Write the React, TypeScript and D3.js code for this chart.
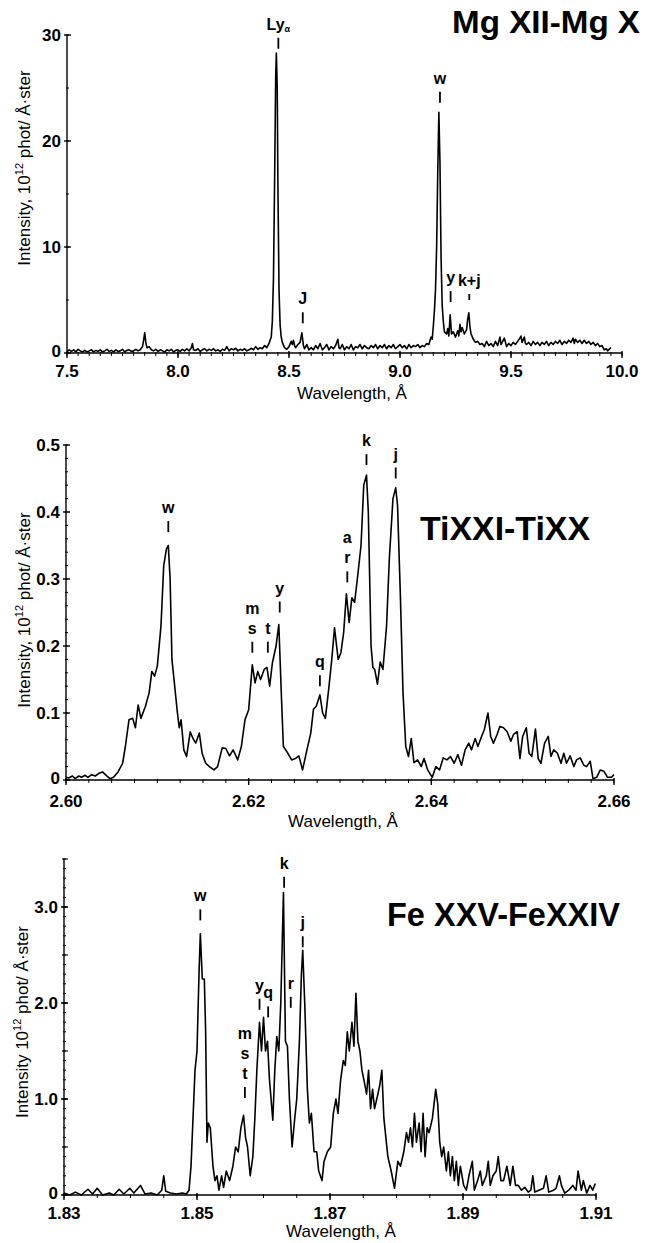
import React from 'react';
import * as d3 from 'd3';

// ---------- DATA ----------
const mgSpectrum: [number, number][] = [
  [7.50,0.1],[7.51,0.3],[7.52,0.15],[7.53,0.3],[7.54,0.1],[7.55,0.35],[7.56,0.2],[7.57,0.1],[7.58,0.25],[7.59,0.1],
  [7.60,0.2],[7.61,0.3],[7.62,0.1],[7.63,0.25],[7.64,0.15],[7.65,0.3],[7.66,0.1],[7.67,0.2],[7.68,0.35],[7.69,0.15],
  [7.70,0.25],[7.71,0.1],[7.72,0.3],[7.73,0.15],[7.74,0.2],[7.75,0.35],[7.76,0.1],[7.77,0.25],[7.78,0.3],[7.79,0.15],
  [7.80,0.2],[7.81,0.35],[7.82,0.2],[7.83,0.3],[7.84,0.6],[7.845,1.2],[7.85,1.9],[7.855,1.0],[7.86,0.5],[7.87,0.6],
  [7.88,0.3],[7.89,0.2],[7.90,0.35],[7.91,0.15],[7.92,0.3],[7.93,0.2],[7.94,0.1],[7.95,0.3],[7.96,0.2],[7.97,0.35],
  [7.98,0.1],[7.99,0.25],[8.00,0.3],[8.01,0.15],[8.02,0.35],[8.03,0.2],[8.04,0.4],[8.05,0.2],[8.06,0.5],[8.065,0.9],
  [8.07,0.3],[8.08,0.25],[8.09,0.4],[8.10,0.15],[8.11,0.3],[8.12,0.4],[8.13,0.2],[8.14,0.35],[8.15,0.25],[8.16,0.4],
  [8.17,0.2],[8.18,0.3],[8.19,0.15],[8.20,0.35],[8.21,0.25],[8.22,0.6],[8.23,0.2],[8.24,0.4],[8.25,0.3],[8.26,0.45],
  [8.27,0.2],[8.28,0.35],[8.29,0.25],[8.30,0.4],[8.31,0.2],[8.32,0.3],[8.33,0.45],[8.34,0.3],[8.35,0.6],[8.36,0.35],
  [8.37,0.5],[8.38,0.4],[8.39,0.7],[8.40,0.5],[8.41,0.9],[8.42,1.5],[8.425,3.0],[8.43,7.0],[8.435,16.0],[8.44,26.0],
  [8.443,28.3],[8.447,25.0],[8.45,16.0],[8.455,6.0],[8.46,2.6],[8.465,1.5],[8.47,1.0],[8.48,0.5],[8.49,0.35],[8.50,0.6],
  [8.51,1.1],[8.515,0.8],[8.52,1.2],[8.525,0.7],[8.53,0.5],[8.54,0.8],[8.55,1.0],[8.558,1.9],[8.565,0.7],[8.57,0.4],
  [8.58,0.8],[8.59,0.3],[8.60,0.5],[8.61,0.3],[8.62,0.7],[8.63,0.4],[8.64,0.9],[8.65,0.3],[8.66,0.5],[8.67,0.8],
  [8.68,0.3],[8.69,0.6],[8.70,0.4],[8.71,0.7],[8.72,1.3],[8.725,0.5],[8.73,0.4],[8.74,0.8],[8.75,0.3],[8.76,0.6],
  [8.77,0.4],[8.78,0.8],[8.79,0.3],[8.80,0.6],[8.81,0.5],[8.82,0.8],[8.83,0.4],[8.84,0.7],[8.85,0.5],[8.86,0.4],
  [8.87,0.7],[8.88,0.5],[8.89,0.8],[8.90,0.4],[8.91,0.7],[8.92,0.5],[8.93,0.8],[8.94,0.4],[8.95,0.7],[8.96,0.5],
  [8.97,0.8],[8.98,0.4],[8.99,0.6],[9.00,0.8],[9.01,0.5],[9.02,0.7],[9.03,0.4],[9.04,0.8],[9.05,0.5],[9.06,0.7],
  [9.07,0.6],[9.08,0.8],[9.09,0.5],[9.10,0.7],[9.11,0.6],[9.12,0.9],[9.13,0.8],[9.14,1.5],[9.145,1.3],[9.15,2.5],
  [9.155,4.0],[9.16,6.0],[9.165,10.0],[9.17,17.0],[9.175,22.7],[9.18,18.0],[9.185,9.0],[9.19,4.5],[9.195,3.0],[9.20,2.0],
  [9.21,1.8],[9.215,2.3],[9.22,1.6],[9.226,3.6],[9.232,1.8],[9.24,2.0],[9.25,1.5],[9.26,2.1],[9.265,1.6],[9.27,2.7],
  [9.275,2.0],[9.28,2.4],[9.29,1.8],[9.30,2.2],[9.305,3.2],[9.31,3.8],[9.315,2.5],[9.32,1.8],[9.33,1.3],[9.34,1.0],
  [9.35,1.1],[9.36,0.8],[9.37,0.9],[9.38,0.6],[9.39,1.1],[9.40,0.7],[9.41,0.9],[9.42,0.6],[9.43,1.1],[9.44,0.7],
  [9.45,1.5],[9.455,0.8],[9.46,1.0],[9.47,1.4],[9.48,0.6],[9.49,0.9],[9.50,0.7],[9.51,1.0],[9.52,0.8],[9.53,1.1],
  [9.54,1.4],[9.545,1.6],[9.55,1.0],[9.56,1.5],[9.565,0.9],[9.57,0.8],[9.58,1.0],[9.59,0.7],[9.60,1.1],[9.61,0.8],
  [9.62,1.0],[9.63,0.7],[9.64,1.0],[9.65,0.8],[9.66,1.1],[9.67,0.7],[9.68,1.0],[9.69,0.8],[9.70,1.1],[9.71,0.9],
  [9.72,1.2],[9.73,0.8],[9.74,1.1],[9.75,0.9],[9.76,1.2],[9.77,1.0],[9.78,1.4],[9.785,0.9],[9.79,1.3],[9.80,1.0],
  [9.81,1.2],[9.82,0.9],[9.83,1.2],[9.84,0.9],[9.85,1.1],[9.86,0.8],[9.87,1.0],[9.88,0.7],[9.89,0.9],[9.90,0.6],
  [9.91,0.7],[9.92,0.3],[9.93,0.4],[9.935,0.2],[9.94,0.3],[9.95,0.5],
];

const tiSpectrum: [number, number][] = [
  [2.6000,0.004],[2.6003,0.003],[2.6007,0.006],[2.6010,0.002],[2.6014,0.006],[2.6017,0.004],[2.6021,0.007],[2.6024,0.004],
  [2.6028,0.008],[2.6032,0.006],[2.6036,0.01],[2.6040,0.012],[2.6044,0.007],[2.6048,0.002],[2.6052,0.004],[2.6057,0.012],
  [2.6062,0.025],[2.6065,0.05],[2.6069,0.09],[2.6073,0.092],[2.6076,0.078],[2.6079,0.112],[2.6082,0.092],[2.6087,0.11],
  [2.6091,0.13],[2.6094,0.162],[2.6097,0.155],[2.6100,0.17],[2.6104,0.23],[2.6107,0.32],[2.6110,0.345],[2.6112,0.35],
  [2.6114,0.3],[2.6116,0.18],[2.6119,0.14],[2.6122,0.1],[2.6124,0.078],[2.6126,0.09],[2.6129,0.045],[2.6132,0.035],
  [2.6136,0.072],[2.6139,0.062],[2.6142,0.055],[2.6146,0.07],[2.6149,0.04],[2.6153,0.025],[2.6157,0.02],[2.6162,0.015],
  [2.6166,0.02],[2.6171,0.048],[2.6175,0.047],[2.6179,0.036],[2.6183,0.045],[2.6188,0.03],[2.6192,0.05],[2.6196,0.09],
  [2.6200,0.105],[2.6204,0.172],[2.6207,0.145],[2.6210,0.162],[2.6213,0.15],[2.6217,0.165],[2.6220,0.168],[2.6223,0.14],
  [2.6226,0.175],[2.6230,0.2],[2.6233,0.232],[2.6236,0.12],[2.6238,0.05],[2.6242,0.042],[2.6247,0.03],[2.6251,0.032],
  [2.6255,0.036],[2.6259,0.015],[2.6263,0.04],[2.6268,0.07],[2.6271,0.106],[2.6274,0.11],[2.6278,0.127],[2.6281,0.1],
  [2.6284,0.092],[2.6288,0.14],[2.6291,0.18],[2.6294,0.227],[2.6298,0.18],[2.6301,0.19],[2.6304,0.22],[2.6307,0.278],
  [2.6310,0.235],[2.6313,0.272],[2.6316,0.265],[2.6319,0.3],[2.6323,0.35],[2.6326,0.44],[2.6329,0.455],[2.6331,0.4],
  [2.6334,0.2],[2.6336,0.168],[2.6338,0.165],[2.6341,0.143],[2.6344,0.176],[2.6347,0.165],[2.6351,0.23],[2.6354,0.33],
  [2.6358,0.42],[2.6361,0.436],[2.6363,0.41],[2.6366,0.28],[2.6369,0.13],[2.6372,0.05],[2.6375,0.035],[2.6378,0.062],
  [2.6381,0.026],[2.6385,0.03],[2.6389,0.02],[2.6392,0.032],[2.6396,0.015],[2.6401,0.004],[2.6405,0.02],[2.6409,0.015],
  [2.6413,0.033],[2.6417,0.03],[2.6421,0.035],[2.6425,0.025],[2.6429,0.038],[2.6433,0.022],[2.6437,0.045],[2.6441,0.055],
  [2.6444,0.045],[2.6448,0.062],[2.6451,0.05],[2.6455,0.065],[2.6458,0.075],[2.6462,0.1],[2.6465,0.065],[2.6468,0.055],
  [2.6472,0.068],[2.6475,0.08],[2.6479,0.078],[2.6483,0.072],[2.6487,0.058],[2.6490,0.068],[2.6494,0.072],[2.6497,0.032],
  [2.6500,0.065],[2.6504,0.078],[2.6507,0.04],[2.6510,0.035],[2.6514,0.076],[2.6517,0.032],[2.6520,0.025],[2.6524,0.055],
  [2.6528,0.065],[2.6531,0.035],[2.6534,0.045],[2.6538,0.04],[2.6542,0.025],[2.6545,0.04],[2.6548,0.025],[2.6552,0.036],
  [2.6556,0.02],[2.6559,0.03],[2.6563,0.033],[2.6567,0.022],[2.6570,0.02],[2.6574,0.028],[2.6577,0.002],[2.6581,0.004],
  [2.6585,0.015],[2.6589,0.013],[2.6593,0.004],[2.6597,0.004],[2.6600,0.008],
];

const feSpectrum: [number, number][] = [
  [1.8300,0.02],[1.8309,0.0],[1.8317,0.03],[1.8326,0.0],[1.8336,0.06],[1.8343,0.01],[1.8350,0.07],[1.8358,0.0],
  [1.8368,0.02],[1.8375,0.0],[1.8383,0.06],[1.8390,0.01],[1.8399,0.07],[1.8405,0.02],[1.8415,0.1],[1.8422,0.01],
  [1.8431,0.02],[1.8440,0.0],[1.8447,0.05],[1.8450,0.2],[1.8453,0.04],[1.8460,0.02],[1.8469,0.01],[1.8478,0.02],
  [1.8484,0.01],[1.8488,0.05],[1.8491,0.3],[1.8494,0.8],[1.8497,1.3],[1.8500,1.5],[1.8503,2.3],[1.8505,2.72],
  [1.8508,2.25],[1.8511,2.25],[1.8513,1.7],[1.8515,0.55],[1.8517,0.75],[1.8520,0.7],[1.8524,0.3],[1.8527,0.15],
  [1.8530,0.2],[1.8533,0.05],[1.8537,0.2],[1.8540,0.08],[1.8544,0.25],[1.8549,0.15],[1.8554,0.3],[1.8558,0.5],
  [1.8562,0.45],[1.8566,0.7],[1.8570,0.83],[1.8573,0.6],[1.8576,0.5],[1.8580,0.2],[1.8584,0.4],[1.8587,0.8],
  [1.8590,1.3],[1.8594,1.8],[1.8597,1.5],[1.8600,1.85],[1.8603,1.5],[1.8606,1.6],[1.8609,1.2],[1.8614,0.78],
  [1.8617,1.3],[1.8620,1.65],[1.8623,1.5],[1.8626,2.0],[1.8630,3.15],[1.8633,1.6],[1.8636,1.55],[1.8639,1.0],
  [1.8643,0.5],[1.8647,0.8],[1.8650,1.0],[1.8654,1.6],[1.8657,2.3],[1.8659,2.55],[1.8662,2.0],[1.8666,1.1],
  [1.8669,0.75],[1.8672,0.85],[1.8676,0.45],[1.8680,0.45],[1.8683,0.25],[1.8688,0.15],[1.8691,0.35],[1.8696,0.45],
  [1.8701,0.5],[1.8705,0.85],[1.8709,1.0],[1.8712,0.85],[1.8716,1.2],[1.8720,1.4],[1.8723,1.35],[1.8726,1.7],
  [1.8729,1.5],[1.8733,1.8],[1.8736,1.55],[1.8739,2.1],[1.8742,1.6],[1.8745,1.5],[1.8748,1.3],[1.8751,1.2],
  [1.8755,1.05],[1.8758,1.3],[1.8761,0.9],[1.8764,1.1],[1.8767,0.9],[1.8772,1.05],[1.8775,1.15],[1.8778,1.3],
  [1.8781,0.8],[1.8784,0.6],[1.8787,0.4],[1.8792,0.25],[1.8797,0.07],[1.8802,0.35],[1.8806,0.3],[1.8811,0.45],
  [1.8815,0.65],[1.8818,0.55],[1.8821,0.7],[1.8824,0.5],[1.8827,0.85],[1.8830,0.55],[1.8834,0.75],[1.8837,0.45],
  [1.8840,0.85],[1.8843,0.4],[1.8846,0.7],[1.8849,0.65],[1.8854,0.8],[1.8859,1.1],[1.8862,0.95],[1.8865,0.55],
  [1.8868,0.4],[1.8871,0.5],[1.8875,0.25],[1.8878,0.45],[1.8881,0.2],[1.8884,0.4],[1.8887,0.15],[1.8890,0.35],
  [1.8893,0.1],[1.8896,0.3],[1.8901,0.1],[1.8905,0.05],[1.8909,0.2],[1.8914,0.35],[1.8917,0.05],[1.8922,0.15],
  [1.8926,0.25],[1.8929,0.1],[1.8935,0.2],[1.8938,0.35],[1.8941,0.1],[1.8945,0.2],[1.8950,0.25],[1.8953,0.4],
  [1.8957,0.15],[1.8961,0.15],[1.8966,0.3],[1.8971,0.1],[1.8975,0.3],[1.8979,0.1],[1.8983,0.1],[1.8988,0.05],
  [1.8993,0.08],[1.8998,0.03],[1.9002,0.05],[1.9005,0.2],[1.9008,0.03],[1.9014,0.05],[1.9021,0.07],[1.9025,0.2],
  [1.9029,0.03],[1.9036,0.05],[1.9040,0.07],[1.9045,0.2],[1.9048,0.1],[1.9053,0.02],[1.9059,0.05],[1.9065,0.1],
  [1.9070,0.05],[1.9073,0.25],[1.9078,0.05],[1.9081,0.15],[1.9086,0.02],[1.9091,0.1],[1.9095,0.05],[1.9099,0.12],
];

const mgXTicks = [7.5, 8.0, 8.5, 9.0, 9.5, 10.0];
const mgXTickLabels = ['7.5', '8.0', '8.5', '9.0', '9.5', '10.0'];
const mgYTicks = [0, 10, 20, 30];
const mgYTickLabels = ['0', '10', '20', '30'];

const tiXTicks = [2.60, 2.62, 2.64, 2.66];
const tiXTickLabels = ['2.60', '2.62', '2.64', '2.66'];
const tiYTicks = [0, 0.1, 0.2, 0.3, 0.4, 0.5];
const tiYTickLabels = ['0', '0.1', '0.2', '0.3', '0.4', '0.5'];

const feXTicks = [1.83, 1.85, 1.87, 1.89, 1.91];
const feXTickLabels = ['1.83', '1.85', '1.87', '1.89', '1.91'];
const feYTicks = [0, 1, 2, 3];
const feYTickLabels = ['0', '1.0', '2.0', '3.0'];

type Ann = { lines: string[]; x: number; at: number; sub?: string };

const mgLines: Ann[] = [
  { lines: ['Ly'], sub: 'α', x: 8.452, at: 28.7 },
  { lines: ['J'], x: 8.562, at: 2.8 },
  { lines: ['w'], x: 9.18, at: 23.6 },
  { lines: ['y'], x: 9.228, at: 4.8 },
  { lines: ['k+j'], x: 9.312, at: 5.0 },
];
const tiLines: Ann[] = [
  { lines: ['w'], x: 2.6112, at: 0.37 },
  { lines: ['m', 's'], x: 2.6204, at: 0.19 },
  { lines: ['t'], x: 2.6221, at: 0.19 },
  { lines: ['y'], x: 2.6234, at: 0.25 },
  { lines: ['q'], x: 2.6278, at: 0.14 },
  { lines: ['a', 'r'], x: 2.6308, at: 0.295 },
  { lines: ['k'], x: 2.6329, at: 0.47 },
  { lines: ['j'], x: 2.6361, at: 0.45 },
];
const feLines: Ann[] = [
  { lines: ['w'], x: 1.8505, at: 2.86 },
  { lines: ['m', 's', 't'], x: 1.8572, at: 1.01 },
  { lines: ['y'], x: 1.8594, at: 1.93 },
  { lines: ['q'], x: 1.8607, at: 1.85 },
  { lines: ['k'], x: 1.8631, at: 3.2 },
  { lines: ['r'], x: 1.8641, at: 1.95 },
  { lines: ['j'], x: 1.8659, at: 2.58 },
];

// ---------- LAYOUT ----------
const FONT = "'Liberation Sans', Arial, Helvetica, sans-serif";

type PanelProps = {
  data: [number, number][];
  xDomain: [number, number];
  yDomain: [number, number];
  xRange: [number, number];
  yRange: [number, number];
  xTicks: number[];
  xTickLabels: string[];
  xMinorStep: number;
  yTicks: number[];
  yTickLabels: string[];
  yMinorStep: number;
  yMidStep?: number;
  anns: Ann[];
  title: string;
  titleX: number;
  titleY: number;
  titleLen: number;
  titleSize: number;
  tickLabelY: number;
  xLabelY: number;
  xLabelX: number;
  yLabelX: number;
  yLabelY: number;
  yLabelComma: boolean;
};

function Panel(p: PanelProps) {
  const x = d3.scaleLinear().domain(p.xDomain).range(p.xRange);
  const y = d3.scaleLinear().domain(p.yDomain).range(p.yRange);
  const line = d3.line<[number, number]>().x(d => x(d[0])).y(d => y(d[1]));
  const x0 = p.xRange[0];
  const y0 = p.yRange[0];
  const xMinor = d3.range(p.xDomain[0], p.xDomain[1] + p.xMinorStep / 2, p.xMinorStep);
  const yMinor = d3.range(p.yDomain[0], p.yDomain[1] + p.yMinorStep / 2, p.yMinorStep);
  const yMid = p.yMidStep ? d3.range(p.yDomain[0], p.yDomain[1] + p.yMidStep / 2, p.yMidStep) : [];
  const tickLen = 11;
  const gap = 8;
  const lineH = 20;
  return (
    <g fontFamily={FONT}>
      <line x1={x0} x2={p.xRange[1]} y1={y0} y2={y0} stroke="#000" strokeWidth={1.4} />
      <line x1={x0} x2={x0} y1={y0} y2={p.yRange[1]} stroke="#000" strokeWidth={1.4} />
      {xMinor.map((v, i) => (
        <line key={'xm' + i} x1={x(v)} x2={x(v)} y1={y0 - 1} y2={y0 + 3} stroke="#000" strokeWidth={1} />
      ))}
      {p.xTicks.map((v, i) => (
        <line key={'xM' + i} x1={x(v)} x2={x(v)} y1={y0 - 2} y2={y0 + 5} stroke="#000" strokeWidth={1.4} />
      ))}
      {yMinor.map((v, i) => (
        <line key={'ym' + i} x1={x0 - 1} x2={x0 + 2} y1={y(v)} y2={y(v)} stroke="#000" strokeWidth={1} />
      ))}
      {yMid.map((v, i) => (
        <line key={'yd' + i} x1={x0 - 2} x2={x0 + 4} y1={y(v)} y2={y(v)} stroke="#000" strokeWidth={1.1} />
      ))}
      {p.yTicks.map((v, i) => (
        <line key={'yM' + i} x1={x0 - 3} x2={x0 + 4} y1={y(v)} y2={y(v)} stroke="#000" strokeWidth={1.4} />
      ))}
      {p.xTicks.map((v, i) => (
        <text key={'xl' + i} x={x(v)} y={p.tickLabelY} textAnchor="middle" fontSize={17} fontWeight="bold">
          {p.xTickLabels[i]}
        </text>
      ))}
      {p.yTicks.map((v, i) => (
        <text key={'yl' + i} x={x0 - 6} y={y(v)} dy={v === 0 ? '0.25em' : '0.36em'} textAnchor="end" fontSize={17} fontWeight="bold">
          {p.yTickLabels[i]}
        </text>
      ))}
      <text x={p.xLabelX} y={p.xLabelY} textAnchor="middle" fontSize={17}>
        Wavelength, Å
      </text>
      <text
        transform={`translate(${p.yLabelX},${p.yLabelY}) rotate(-90)`}
        textAnchor="middle"
        fontSize={17}
      >
        {p.yLabelComma ? 'Intensity, 10' : 'Intensity  10'}
        <tspan fontSize={11} dy={-7}>12</tspan>
        <tspan dy={7}> phot/ Å·ster</tspan>
      </text>
      <path d={line(p.data) || ''} fill="none" stroke="#000" strokeWidth={1.6} strokeLinejoin="round" />
      {p.anns.map((a, i) => {
        const ax = x(a.x);
        const bottom = y(a.at);
        const top = bottom - (a.lines[0] === 'k+j' ? 6 : tickLen);
        const n = a.lines.length;
        return (
          <g key={'a' + i}>
            <line x1={ax} x2={ax} y1={top} y2={bottom} stroke="#000" strokeWidth={1.8} />
            {a.lines.map((t, j) => (
              <text
                key={j}
                x={ax}
                y={top - gap - (n - 1 - j) * lineH}
                textAnchor="middle"
                fontSize={16}
                fontWeight="bold"
              >
                {t}
                {a.sub ? <tspan fontSize={9} dy={2}>{a.sub}</tspan> : null}
              </text>
            ))}
          </g>
        );
      })}
      <text
        x={p.titleX}
        y={p.titleY}
        fontSize={p.titleSize}
        fontWeight="bold"
        textLength={p.titleLen}
        lengthAdjust="spacingAndGlyphs"
      >
        {p.title}
      </text>
    </g>
  );
}

export default function App() {
  return (
    <svg
      width={650}
      height={1243}
      viewBox="0 0 650 1243"
      style={{ position: 'absolute', left: 0, top: 0, background: '#fff' }}
    >
      <rect x={0} y={0} width={650} height={1243} fill="#fff" />
      <Panel
        data={mgSpectrum}
        xDomain={[7.5, 10.0]}
        yDomain={[0, 30]}
        xRange={[67, 622]}
        yRange={[353, 35]}
        xTicks={mgXTicks}
        xTickLabels={mgXTickLabels}
        xMinorStep={0.05}
        yTicks={mgYTicks}
        yTickLabels={mgYTickLabels}
        yMinorStep={5}
        anns={mgLines}
        title="Mg XII-Mg X"
        titleX={452}
        titleY={33}
        titleLen={188}
        titleSize={32}
        tickLabelY={377}
        xLabelY={399}
        xLabelX={352}
        yLabelX={30}
        yLabelY={168}
        yLabelComma={true}
      />
      <Panel
        data={tiSpectrum}
        xDomain={[2.60, 2.66]}
        yDomain={[0, 0.5]}
        xRange={[66, 614]}
        yRange={[780, 445]}
        xTicks={tiXTicks}
        xTickLabels={tiXTickLabels}
        xMinorStep={0.0025}
        yTicks={tiYTicks}
        yTickLabels={tiYTickLabels}
        yMinorStep={0.02}
        anns={tiLines}
        title="TiXXI-TiXX"
        titleX={420}
        titleY={540}
        titleLen={170}
        titleSize={34}
        tickLabelY={807}
        xLabelY={827}
        xLabelX={343}
        yLabelX={30}
        yLabelY={610}
        yLabelComma={true}
      />
      <Panel
        data={feSpectrum}
        xDomain={[1.83, 1.91]}
        yDomain={[0, 3.5]}
        xRange={[64, 596]}
        yRange={[1195, 859]}
        xTicks={feXTicks}
        xTickLabels={feXTickLabels}
        xMinorStep={0.005}
        yTicks={feYTicks}
        yTickLabels={feYTickLabels}
        yMinorStep={0.1}
        yMidStep={0.5}
        anns={feLines}
        title="Fe XXV-FeXXIV"
        titleX={387}
        titleY={926}
        titleLen={233}
        titleSize={34}
        tickLabelY={1219}
        xLabelY={1237}
        xLabelX={341}
        yLabelX={28}
        yLabelY={1022}
        yLabelComma={false}
      />
    </svg>
  );
}
